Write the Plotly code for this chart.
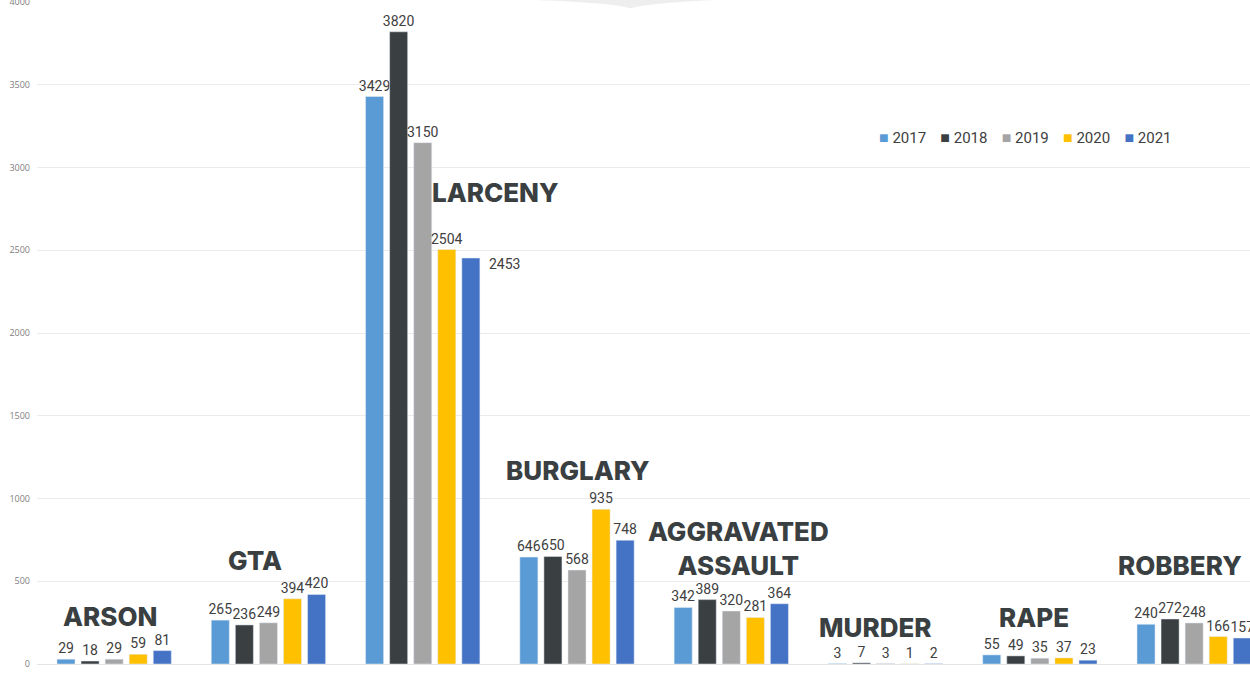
import plotly.graph_objects as go

categories = ["ARSON", "GTA", "LARCENY", "BURGLARY", "AGGRAVATED ASSAULT", "MURDER", "RAPE", "ROBBERY"]
years = ["2017", "2018", "2019", "2020", "2021"]
v2017 = [29, 265, 3429, 646, 342, 3, 55, 240]
v2018 = [18, 236, 3820, 650, 389, 7, 49, 272]
v2019 = [29, 249, 3150, 568, 320, 3, 35, 248]
v2020 = [59, 394, 2504, 935, 281, 1, 37, 166]
v2021 = [81, 420, 2453, 748, 364, 2, 23, 157]
series = [v2017, v2018, v2019, v2020, v2021]
y_ticks = [0, 500, 1000, 1500, 2000, 2500, 3000, 3500, 4000]

colors = ["#5B9BD5", "#3A3F42", "#A5A5A5", "#FFC000", "#4472C4"]

# category label placement (x offset in px from category center, y in data units)
label_text = ["ARSON", "GTA", "LARCENY", "BURGLARY", "AGGRAVATED<br>ASSAULT", "MURDER", "RAPE", "ROBBERY"]
label_xshift = [-4, -13, 73, 1, 7, -10, -6, -14]
label_y = [290, 628, 2851, 1172, 695, 223, 284, 598]

# value label drawn beside its bar instead of above it (series index, category index)
side_label = (4, 2)

fig = go.Figure()
for i, (yr, vals, col) in enumerate(zip(years, series, colors)):
    texts = [str(v) for v in vals]
    if i == side_label[0]:
        texts[side_label[1]] = ""
    fig.add_trace(go.Bar(
        x=categories, y=vals, name=yr, marker_color=col,
        text=texts, textposition="outside",
        textfont=dict(family="Roboto", size=14, color="#404040"),
        constraintext="none", cliponaxis=False, showlegend=False,
    ))

si, ci = side_label
fig.add_annotation(
    x=categories[ci], y=series[si][ci], text=str(series[si][ci]), showarrow=False,
    xanchor="left", yanchor="middle", xshift=64, yshift=-6,
    font=dict(family="Roboto", size=14, color="#404040"),
)

for cat, txt, dx, yy in zip(categories, label_text, label_xshift, label_y):
    fig.add_annotation(
        x=cat, y=yy, text=txt, showarrow=False, xshift=dx,
        font=dict(family="Inter", size=26, color="#3A3F42", weight=800),
        yanchor="middle", xanchor="center", align="center",
    )

# compact legend (coloured square + year), built from the series names/colours
legend_html = "\u00a0\u00a0\u00a0\u2009".join(
    f"<span style='color:{c};font-size:16px'>■</span>\u00a0{y}" for y, c in zip(years, colors)
)
fig.add_annotation(
    xref="paper", yref="paper", x=0.6925, y=0.796, xanchor="left", yanchor="middle",
    text=legend_html, showarrow=False,
    font=dict(family="Roboto", size=15, color="#404040"),
)

# decorative light-grey notch at the top
fig.add_shape(
    type="path", xref="paper", yref="paper",
    path="M 0.41,1.003 Q 0.48,0.998 0.489,0.99 Q 0.50,0.998 0.56,1.003 Z",
    fillcolor="#EEEEEE", line=dict(width=0), layer="below",
)

fig.update_layout(
    width=1250, height=674,
    margin=dict(l=37, r=0, t=2, b=10, autoexpand=False),
    paper_bgcolor="white", plot_bgcolor="white",
    barmode="group", bargap=0.22, bargroupgap=0.25,
    showlegend=False,
    xaxis=dict(
        range=[-0.5, 7.362], showticklabels=False, showgrid=False,
        showline=False, zeroline=False, ticks="", automargin=False,
    ),
    yaxis=dict(
        range=[0, 4000], tickvals=y_ticks, ticktext=[str(t) for t in y_ticks],
        showgrid=True, gridcolor="#EBEBEB", gridwidth=1,
        zeroline=True, zerolinecolor="#E3E3E3", zerolinewidth=1,
        tickfont=dict(family="Open Sans", size=9, color="#808080"),
        ticks="", ticklabelstandoff=6, ticklabeloverflow="allow", automargin=False,
    ),
)

fig.write_html("out.html", config={"displayModeBar": False},
               post_script="document.body.style.margin='0';")
